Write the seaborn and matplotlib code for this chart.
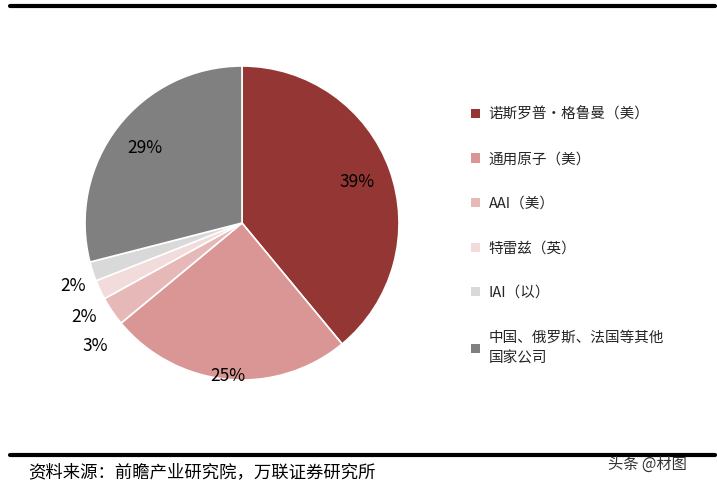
import matplotlib
matplotlib.use("Agg")
import matplotlib.pyplot as plt
import seaborn as sns
import numpy as np
from matplotlib.patches import Patch
from matplotlib.lines import Line2D

sns.set_theme(style="white")
plt.rcParams['font.family'] = ['Noto Sans CJK SC', 'DejaVu Sans']

labels = ["诺斯罗普·格鲁曼（美）", "通用原子（美）", "AAI（美）", "特雷兹（英）", "IAI（以）",
          "中国、俄罗斯、法国等其他\n国家公司"]
values = [39, 25, 3, 2, 2, 29]
colors = ["#943634", "#D99694", "#E6B9B8", "#F2DCDB", "#D9D9D9", "#808080"]
label_dist = [0.78, 0.98, 1.22, 1.17, 1.15, 0.78]
label_shift = [0, 0, 5.8, 5.4, 2.5, 0]

W, H = 717, 487
fig = plt.figure(figsize=(W/100, H/100), dpi=100)
cx, cy, r = 242, 223, 157
ax = fig.add_axes([(cx-r)/W, (H-cy-r)/H, 2*r/W, 2*r/H])
wedges, _ = ax.pie(values, colors=colors, startangle=90, counterclock=False,
                   wedgeprops=dict(edgecolor="white", linewidth=1.2), radius=1)
ax.set_xlim(-1, 1); ax.set_ylim(-1, 1)
ax.set_aspect("equal")
ax.axis("off")
for w, v, d, s in zip(wedges, values, label_dist, label_shift):
    ang = np.deg2rad((w.theta1 + w.theta2) / 2 + s)
    ax.text(d*np.cos(ang), d*np.sin(ang), f"{v}%", ha="center", va="center",
            fontsize=12.5, color="black")

handles = [Patch(facecolor=c, edgecolor="none") for c in colors]
fig.legend(handles, labels, loc="upper left", bbox_to_anchor=(458/W, 1-94/H),
           frameon=False, handlelength=0.6, handleheight=0.6,
           handletextpad=0.6, labelspacing=2.1, prop=dict(size=10.5))
for t in fig.legends[0].get_texts():
    t.set_linespacing(1.6)

fig.add_artist(Line2D([10/W, 715/W], [1-6/H, 1-6/H], color="black", lw=3))
fig.add_artist(Line2D([10/W, 715/W], [1-455/H, 1-455/H], color="black", lw=3))
fig.text(28/W, 1-472/H, "资料来源：前瞻产业研究院，万联证券研究所", fontsize=12.5,
         style="italic", va="center", ha="left", color="black")
fig.text(608/W, 1-464/H, "头条 @材图", fontsize=11, va="center", ha="left", color="#333333")

fig.savefig("out.png", dpi=100, facecolor="white")
